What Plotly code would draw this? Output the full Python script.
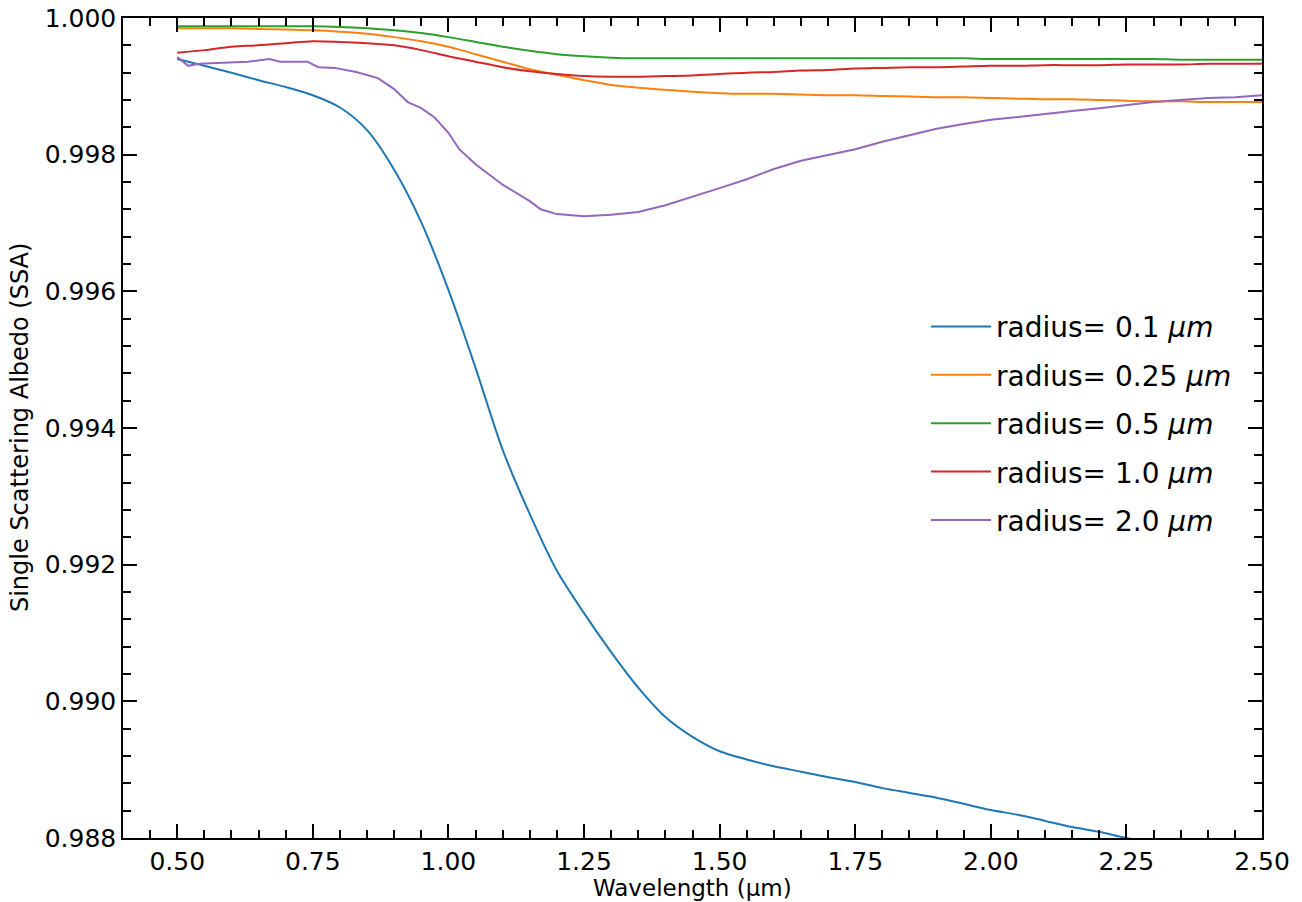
import plotly.graph_objects as go

# Wavelength grid (µm)
wl = [0.50, 0.55, 0.60, 0.65, 0.70, 0.75, 0.80, 0.85, 0.90, 0.95,
      1.00, 1.05, 1.10, 1.15, 1.20, 1.25, 1.30, 1.35, 1.40, 1.45,
      1.50, 1.55, 1.60, 1.65, 1.70, 1.75, 1.80, 1.85, 1.90, 1.95,
      2.00, 2.05, 2.10, 2.15, 2.20, 2.25, 2.30, 2.35, 2.40, 2.45, 2.50]

ssa_r01 = [0.99940, 0.99930, 0.99920, 0.99909, 0.99899, 0.99887, 0.99869, 0.99836, 0.99778, 0.99701,
           0.99602, 0.99488, 0.99368, 0.99274, 0.99191, 0.99129, 0.99072, 0.99020, 0.98977, 0.98948,
           0.98927, 0.98915, 0.98905, 0.98897, 0.98889, 0.98882, 0.98873, 0.98866, 0.98859, 0.98850,
           0.98841, 0.98834, 0.98825, 0.98816, 0.98809, 0.98800, 0.98793, 0.98784, 0.98775, 0.98768, 0.98759]

ssa_r025 = [0.99985, 0.99985, 0.99985, 0.99984, 0.99983, 0.99982, 0.99980, 0.99977, 0.99972, 0.99966,
            0.99958, 0.99947, 0.99936, 0.99925, 0.99917, 0.99909, 0.99902, 0.99898, 0.99895, 0.99892,
            0.99890, 0.99889, 0.99889, 0.99888, 0.99887, 0.99887, 0.99886, 0.99885, 0.99884, 0.99884,
            0.99883, 0.99882, 0.99881, 0.99881, 0.99880, 0.99879, 0.99878, 0.99878, 0.99877, 0.99877, 0.99877]

ssa_r05 = [0.99988, 0.99988, 0.99988, 0.99988, 0.99988, 0.99988, 0.99987, 0.99985, 0.99982, 0.99978,
           0.99972, 0.99965, 0.99958, 0.99952, 0.99947, 0.99944, 0.99942, 0.99941, 0.99941, 0.99941,
           0.99941, 0.99941, 0.99941, 0.99941, 0.99941, 0.99941, 0.99941, 0.99941, 0.99941, 0.99941,
           0.99940, 0.99940, 0.99940, 0.99940, 0.99940, 0.99940, 0.99940, 0.99939, 0.99939, 0.99939, 0.99939]

ssa_r10 = [0.99949, 0.99953, 0.99958, 0.99960, 0.99963, 0.99966, 0.99965, 0.99963, 0.99960, 0.99953,
           0.99944, 0.99936, 0.99928, 0.99922, 0.99918, 0.99915, 0.99914, 0.99914, 0.99915, 0.99916,
           0.99918, 0.99920, 0.99921, 0.99923, 0.99924, 0.99926, 0.99927, 0.99928, 0.99928, 0.99929,
           0.99930, 0.99930, 0.99931, 0.99931, 0.99931, 0.99932, 0.99932, 0.99932, 0.99933, 0.99933, 0.99933]

# Radius 2.0 has a finer, jagged start
wl_r20 = [0.500, 0.510, 0.520, 0.540, 0.570, 0.630, 0.670, 0.690, 0.720, 0.740,
          0.760, 0.790, 0.830, 0.870, 0.900, 0.925, 0.950, 0.975, 1.000, 1.020,
          1.050, 1.100, 1.150, 1.170, 1.200, 1.250, 1.300, 1.350, 1.400, 1.450,
          1.500, 1.550, 1.600, 1.650, 1.700, 1.750, 1.800, 1.850, 1.900, 1.950,
          2.000, 2.050, 2.100, 2.150, 2.200, 2.250, 2.300, 2.350, 2.400, 2.450, 2.500]
ssa_r20 = [0.99943, 0.99936, 0.99930, 0.99933, 0.99934, 0.99936, 0.99940, 0.99936, 0.99936, 0.99936,
           0.99928, 0.99927, 0.99921, 0.99912, 0.99896, 0.99877, 0.99868, 0.99854, 0.99832, 0.99808,
           0.99786, 0.99756, 0.99732, 0.99720, 0.99713, 0.99710, 0.99712, 0.99716, 0.99726, 0.99738,
           0.99751, 0.99764, 0.99779, 0.99791, 0.99800, 0.99808, 0.99819, 0.99829, 0.99838, 0.99845,
           0.99851, 0.99855, 0.99860, 0.99864, 0.99868, 0.99873, 0.99877, 0.99880, 0.99883, 0.99884, 0.99887]

labels = ["radius= 0.1 <i>μm</i>", "radius= 0.25 <i>μm</i>", "radius= 0.5 <i>μm</i>",
          "radius= 1.0 <i>μm</i>", "radius= 2.0 <i>μm</i>"]
colors = ["#1f77b4", "#ff7f0e", "#2ca02c", "#d62728", "#9467bd"]
shapes = ["spline", "spline", "spline", "spline", "linear"]

x_title = "Wavelength (µm)"
y_title = "Single Scattering Albedo (SSA)"

xs = [wl, wl, wl, wl, wl_r20]
ys = [ssa_r01, ssa_r025, ssa_r05, ssa_r10, ssa_r20]

fig = go.Figure()
for i, (x, y) in enumerate(zip(xs, ys)):
    line = dict(color=colors[i], width=2, shape=shapes[i])
    if shapes[i] == "spline":
        line["smoothing"] = 0.8
    fig.add_trace(go.Scatter(x=x, y=y, mode="lines", name=labels[i],
                             line=line, legendgroup=f"g{i}"))

font_family = "DejaVu Sans"
axis_common = dict(
    showline=True, linecolor="black", linewidth=1.5, mirror="allticks",
    ticks="inside", ticklen=14, tickwidth=2, tickcolor="black",
    showgrid=False, zeroline=False, automargin=False, ticklabeloverflow="allow",
    tickfont=dict(family=font_family, size=25, color="black"),
)

fig.update_xaxes(
    range=[0.4, 2.5], tick0=0.5, dtick=0.25, tickformat=".2f",
    minor=dict(ticks="inside", dtick=0.05, tick0=0.5, ticklen=8, tickwidth=1.5, tickcolor="black", showgrid=False),
    **axis_common,
)
fig.update_yaxes(
    range=[0.988, 1.000], tick0=0.988, dtick=0.002, tickformat=".3f",
    minor=dict(ticks="inside", dtick=0.0004, tick0=0.988, ticklen=8, tickwidth=1.5, tickcolor="black", showgrid=False),
    **axis_common,
)

# Axis titles as annotations, positioned like the reference
fig.add_annotation(text=x_title, xref="paper", yref="paper", x=0.5, y=-0.0605,
                   xanchor="center", yanchor="middle", showarrow=False,
                   font=dict(family=font_family, size=23, color="black"))
fig.add_annotation(text=y_title, xref="paper", yref="paper", x=-0.0904, y=0.5,
                   xanchor="center", yanchor="middle", textangle=-90, showarrow=False,
                   font=dict(family=font_family, size=24, color="black"))

fig.update_layout(
    width=1302, height=902,
    margin=dict(l=123, r=40, t=18, b=64),
    paper_bgcolor="white", plot_bgcolor="white",
    font=dict(family=font_family, color="black"),
    legend=dict(x=0.705, y=0.654, xanchor="left", yanchor="top",
                font=dict(family=font_family, size=28, color="black"),
                bgcolor="rgba(0,0,0,0)", borderwidth=0, tracegroupgap=9,
                itemwidth=60),
    showlegend=True,
)

# Remove the browser's default body margin so the figure fills the window exactly
fig.write_html("out.html", config={"displayModeBar": False},
               post_script="document.body.style.margin='0px';document.body.style.overflow='hidden';")
